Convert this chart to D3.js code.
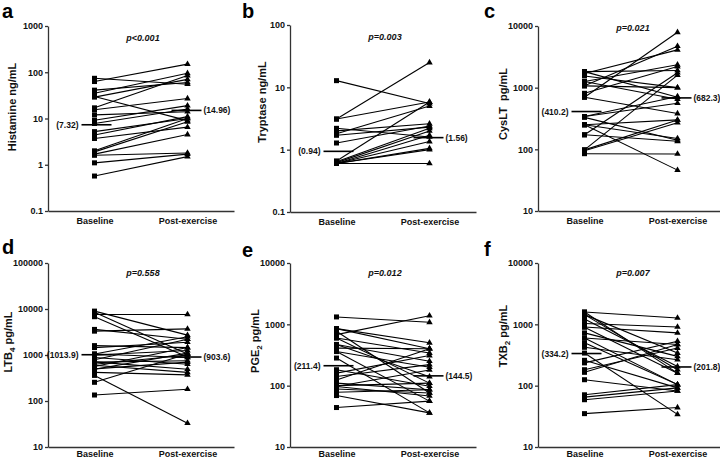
<!DOCTYPE html>
<html><head><meta charset="utf-8">
<script src="https://cdn.jsdelivr.net/npm/d3@7"></script>
<style>
body{margin:0;background:#fff;}
svg{display:block;font-family:"Liberation Sans",Arial,sans-serif;}
</style></head>
<body><svg id="c" width="720" height="461"></svg>
<script>
const categories = ["Baseline", "Post-exercise"];

const histBase = [74, 63, 41, 35, 30, 29, 17, 15.5, 12, 9.2, 7.8, 5.2, 4.4, 3.7, 2.0, 1.9, 1.7, 1.6, 1.1, 0.57];
const histPost = [55, 150, 60, 95, 9, 70, 85, 27, 14, 19, 16, 10, 11, 6.5, 10, 8.5, 4.5, 1.8, 1.7, 1.5];

const trypBase = [12.8, 3.1, 3.1, 2.2, 2.0, 1.8, 1.7, 1.28, 0.66, 0.64, 0.62, 0.6, 0.6, 0.6, 0.6, 0.6];
const trypPost = [5.5, 25, 5.8, 1.6, 2.6, 5.0, 2.3, 2.4, 5.8, 2.2, 2.0, 1.7, 1.35, 1.05, 1.0, 0.6];

const cysBase = [1820, 1820, 1700, 1550, 1260, 1260, 1070, 1070, 810, 700, 700, 340, 340, 330, 250, 250, 250, 172, 172, 98, 98, 95, 85];
const cysPost = [1900, 700, 4100, 1000, 2350, 650, 1000, 4700, 2200, 7900, 380, 720, 560, 140, 300, 150, 46, 1750, 135, 1600, 300, 270, 84];

const ltbBase = [9000, 8500, 7600, 6800, 3600, 3300, 1600, 1450, 1050, 1050, 1000, 880, 790, 710, 700, 630, 600, 560, 500, 490, 420, 360, 255, 135];
const ltbPost = [2700, 1050, 7600, 900, 2200, 3700, 1450, 1900, 2500, 880, 1250, 630, 2200, 490, 750, 1000, 420, 1450, 700, 1100, 370, 33, 1050, 180];

const pgeBase = [1320, 850, 850, 770, 680, 600, 600, 470, 470, 410, 360, 360, 282, 182, 160, 141, 124, 110, 100, 97, 97, 88, 78, 69, 44];
const pgePost = [1080, 500, 400, 76, 1380, 340, 110, 140, 250, 400, 56, 200, 36, 98, 310, 220, 400, 86, 110, 180, 68, 76, 86, 36, 56];

const txbBase = [1585, 1585, 1440, 1440, 1220, 1030, 905, 900, 725, 600, 600, 500, 422, 340, 259, 235, 182, 165, 125, 71, 65, 59, 35];
const txbPost = [160, 1270, 340, 182, 205, 905, 725, 160, 300, 470, 104, 104, 265, 34, 92, 530, 410, 470, 82, 104, 92, 82, 44];

const medianBase = ["7.32", "0.94", "410.2", "1013.9", "211.4", "334.2"];
const medianPost = ["14.96", "1.56", "682.3", "903.6", "144.5", "201.8"];
const pLabels = ["p<0.001", "p=0.003", "p=0.021", "p=0.558", "p=0.012", "p=0.007"];
const panelLetters = ["a", "b", "c", "d", "e", "f"];
const yTicks = [
  [0.1, 1, 10, 100, 1000],
  [0.1, 1, 10, 100],
  [10, 100, 1000, 10000],
  [10, 100, 1000, 10000, 100000],
  [10, 100, 1000, 10000],
  [10, 100, 1000, 10000]
];
const yLabels = [
  [["Histamine ng/mL"]],
  [["Tryptase ng/mL"]],
  [["CysLT  pg/mL"]],
  [["LTB"], ["4", "sub"], [" pg/mL"]],
  [["PGE"], ["2", "sub"], [" pg/mL"]],
  [["TXB"], ["2", "sub"], [" pg/mL"]]
];
const bases = [histBase, trypBase, cysBase, ltbBase, pgeBase, txbBase];
const posts = [histPost, trypPost, cysPost, ltbPost, pgePost, txbPost];

// layout
const layout = [
  {ax: 48, top: 26, bot: 211, lx: 16, ly: 107, letterX: 2, letterY: 18, pY: 41, pad: 7},
  {ax: 290, top: 25, bot: 212, lx: 266, ly: 102, letterX: 242, letterY: 18, pY: 40, pad: 7},
  {ax: 538, top: 26, bot: 211, lx: 507, ly: 104, letterX: 484, letterY: 18, pY: 31, pad: 7},
  {ax: 48, top: 263, bot: 447, lx: 12, ly: 342, letterX: 2, letterY: 254, pY: 276, pad: 4},
  {ax: 290, top: 263, bot: 447, lx: 259, ly: 341, letterX: 242, letterY: 257, pY: 276, pad: 4},
  {ax: 538, top: 263, bot: 447, lx: 507, ly: 336, letterX: 484, letterY: 256, pY: 276, pad: 4}
];
const W = 186;

const svg = d3.select("#c");
const fmt = v => (v < 1 ? String(v) : d3.format("d")(v));

layout.forEach((L, i) => {
  const g = svg.append("g");
  const ticks = yTicks[i];
  const y = d3.scaleLog().domain([ticks[0], ticks[ticks.length - 1]]).range([L.bot, L.top]);
  const x = d3.scalePoint().domain(categories).range([L.ax, L.ax + W]).padding(0.5);

  // y axis
  const ya = g.append("g").attr("transform", `translate(${L.ax},0)`)
    .call(d3.axisLeft(y).tickValues(ticks).tickFormat(fmt).tickSize(3).tickSizeOuter(0).tickPadding(2));
  ya.select(".domain").attr("stroke", "#333").attr("stroke-width", 1.3);
  ya.selectAll(".tick line").attr("stroke", "#333").attr("stroke-width", 1.3);
  ya.selectAll(".tick text").attr("font-size", 9).attr("font-weight", "bold").attr("fill", "#111")
    .attr("font-family", "Liberation Sans, Arial, sans-serif");

  // x axis
  const xa = g.append("g").attr("transform", `translate(0,${L.bot})`)
    .call(d3.axisBottom(x).tickSize(0).tickSizeOuter(0).tickPadding(L.pad));
  xa.select(".domain").attr("stroke", "#333").attr("stroke-width", 1.3);
  xa.selectAll(".tick text").attr("font-size", 9).attr("font-weight", "bold").attr("fill", "#111")
    .attr("font-family", "Liberation Sans, Arial, sans-serif");

  // lines
  const b = bases[i], p = posts[i];
  const pairs = b.map((v, k) => [v, p[k]]);
  g.append("g").selectAll("line").data(pairs).join("line")
    .attr("x1", x(categories[0])).attr("x2", x(categories[1]))
    .attr("y1", d => y(d[0])).attr("y2", d => y(d[1]))
    .attr("stroke", "#000").attr("stroke-width", 1.1);

  // markers
  g.append("g").selectAll("rect").data(b).join("rect")
    .attr("x", x(categories[0]) - 2.5).attr("y", d => y(d) - 2.5)
    .attr("width", 5).attr("height", 5).attr("fill", "#000");
  const tri = d3.symbol().type(d3.symbolTriangle).size(18);
  g.append("g").selectAll("path").data(p).join("path")
    .attr("d", tri).attr("transform", d => `translate(${x(categories[1])},${y(d)})`).attr("fill", "#000");

  // medians
  const mb = +medianBase[i], mp = +medianPost[i];
  const bx = x(categories[0]), px = x(categories[1]);
  g.append("line").attr("x1", bx - 13).attr("x2", bx + 17).attr("y1", y(mb)).attr("y2", y(mb))
    .attr("stroke", "#000").attr("stroke-width", 1.6);
  g.append("text").attr("x", bx - 16).attr("y", y(mb)).attr("dy", "0.35em").attr("text-anchor", "end")
    .attr("font-size", 8.5).attr("font-weight", "bold").attr("fill", "#111").text(`(${medianBase[i]})`);
  g.append("line").attr("x1", px - 16).attr("x2", px + 14).attr("y1", y(mp)).attr("y2", y(mp))
    .attr("stroke", "#000").attr("stroke-width", 1.6);
  g.append("text").attr("x", px + 16).attr("y", y(mp)).attr("dy", "0.35em").attr("text-anchor", "start")
    .attr("font-size", 8.5).attr("font-weight", "bold").attr("fill", "#111").text(`(${medianPost[i]})`);

  // p value
  g.append("text").attr("x", (bx + px) / 2 + 2).attr("y", L.pY).attr("text-anchor", "middle")
    .attr("font-size", 9).attr("font-weight", "bold").attr("font-style", "italic").attr("fill", "#111")
    .text(pLabels[i]);

  // panel letter
  g.append("text").attr("x", L.letterX).attr("y", L.letterY)
    .attr("font-size", 20).attr("font-weight", "bold").attr("fill", "#000").text(panelLetters[i]);

  // y label
  const t = g.append("text").attr("transform", `translate(${L.lx},${L.ly}) rotate(-90)`)
    .attr("text-anchor", "middle").attr("font-size", 11).attr("fill", "#111").attr("font-weight", "bold")
    .style("white-space", "pre");
  yLabels[i].forEach(part => {
    const ts = t.append("tspan").text(part[0]);
    if (part[1] === "sub") ts.attr("font-size", 8).attr("dy", 3);
    else if (t.selectAll("tspan").size() > 1) ts.attr("dy", -3);
  });
});
</script></body></html>
